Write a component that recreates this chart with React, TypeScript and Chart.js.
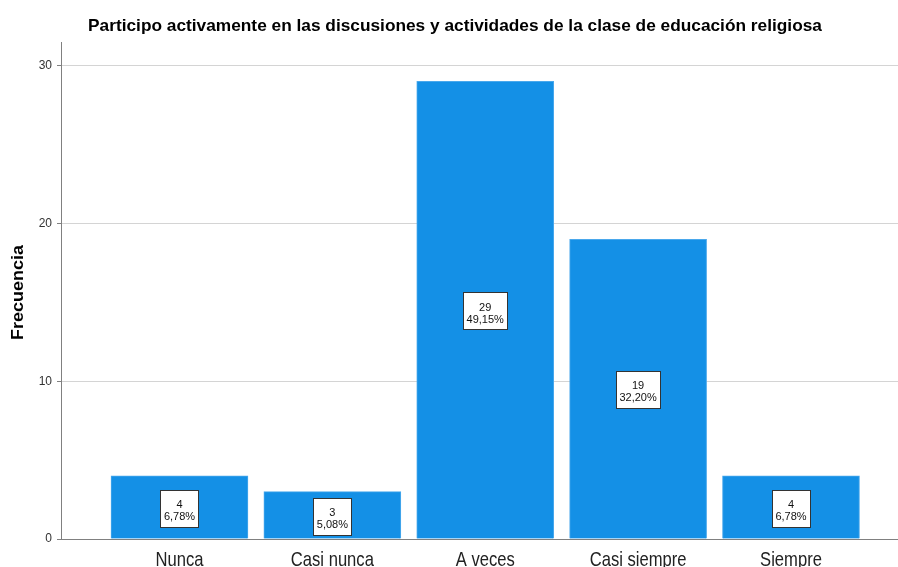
import React, { useEffect, useRef } from "react";
import { Chart, registerables } from "chart.js";

Chart.register(...registerables);

const title = "Participo activamente en las discusiones y actividades de la clase de educación religiosa";
const categories = ["Nunca", "Casi nunca", "A veces", "Casi siempre", "Siempre"];
const frequencies = [4, 3, 29, 19, 4];
const yTicks = [0, 10, 20, 30];
const yAxisTitle = "Frecuencia";

const FONT = "'Liberation Sans', Arial, sans-serif";

const total = frequencies.reduce((a, b) => a + b, 0);
const percents = frequencies.map((v) => ((v / total) * 100).toFixed(2).replace(".", ",") + "%");

const boxLabelPlugin = {
  id: "boxLabels",
  afterDatasetsDraw(chart: any) {
    const ctx = chart.ctx;
    const meta = chart.getDatasetMeta(0);
    ctx.save();
    ctx.font = `11px ${FONT}`;
    ctx.textAlign = "center";
    ctx.textBaseline = "middle";
    meta.data.forEach((bar: any, i: number) => {
      const cx = bar.x;
      const cy = (bar.y + bar.base) / 2;
      const l1 = String(frequencies[i]);
      const l2 = percents[i];
      const w = Math.round(Math.max(ctx.measureText(l1).width, ctx.measureText(l2).width) + 7);
      const h = 37;
      const x0 = Math.round(cx - w / 2) + 0.5;
      const y0 = Math.round(cy + 1 - h / 2) + 0.5;
      ctx.fillStyle = "#ffffff";
      ctx.fillRect(x0, y0, w, h);
      ctx.strokeStyle = "#333333";
      ctx.lineWidth = 1;
      ctx.strokeRect(x0, y0, w, h);
      ctx.fillStyle = "#111111";
      ctx.fillText(l1, cx, cy - 2.5);
      ctx.fillText(l2, cx, cy + 9.5);
    });
    ctx.restore();
  },
};

const textPlugin = {
  id: "customText",
  afterDraw(chart: any) {
    const ctx = chart.ctx;
    ctx.save();
    ctx.font = `bold 17.3px ${FONT}`;
    ctx.fillStyle = "#000000";
    ctx.textAlign = "center";
    ctx.textBaseline = "middle";
    ctx.fillText(title, 455, 26);

    ctx.save();
    ctx.font = `bold 16.8px ${FONT}`;
    ctx.translate(18.5, 292.5);
    ctx.rotate(-Math.PI / 2);
    ctx.scale(1.07, 1);
    ctx.fillText(yAxisTitle, 0, 0);
    ctx.restore();

    const xs = chart.scales.x;
    ctx.font = `16.6px ${FONT}`;
    ctx.fillStyle = "#222222";
    ctx.textBaseline = "alphabetic";
    categories.forEach((c, i) => {
      const px = xs.getPixelForValue(i);
      ctx.save();
      ctx.translate(px, 566);
      ctx.scale(1, 1.18);
      ctx.fillText(c, 0, 0);
      ctx.restore();
    });
    ctx.restore();
  },
};

export default function App() {
  const ref = useRef<HTMLCanvasElement>(null);
  useEffect(() => {
    document.body.style.margin = "0";
    const chart = new Chart(ref.current!, {
      type: "bar",
      data: {
        datasets: [
          {
            data: frequencies.map((v, i) => ({ x: i, y: v })),
            backgroundColor: "#1490e6",
            borderColor: "#4aa8ec",
            borderWidth: 1,
            barThickness: 137,
          },
        ],
      },
      options: {
        animation: false,
        responsive: false,
        devicePixelRatio: 1,
        layout: { padding: { top: 42, right: 0, bottom: 0, left: 0 } },
        plugins: { legend: { display: false }, tooltip: { enabled: false }, title: { display: false } },
        scales: {
          x: {
            type: "linear",
            offset: false,
            min: -0.775,
            max: 4.7,
            afterBuildTicks: (scale: any) => {
              scale.ticks = categories.map((_, i) => ({ value: i }));
            },
            afterFit: (scale: any) => {
              scale.height = 28;
            },
            ticks: { display: false },
            grid: { display: false, drawTicks: false, offset: false },
            border: { display: true, color: "#808080", width: 1 },
          },
          y: {
            min: 0,
            max: 31.5,
            afterBuildTicks: (scale: any) => {
              scale.ticks = yTicks.map((v) => ({ value: v }));
            },
            afterFit: (scale: any) => {
              scale.width = 61;
            },
            ticks: {
              font: { family: FONT, size: 12 },
              color: "#333333",
              padding: 5,
            },
            grid: { color: "#d4d4d4", tickLength: 4, drawTicks: true, tickColor: "#808080" },
            border: { display: true, color: "#808080", width: 1 },
          },
        },
      },
      plugins: [boxLabelPlugin, textPlugin],
    });
    return () => chart.destroy();
  }, []);
  return (
    <div style={{ width: 898, height: 567, background: "#fff" }}>
      <canvas ref={ref} width={898} height={567} />
    </div>
  );
}
